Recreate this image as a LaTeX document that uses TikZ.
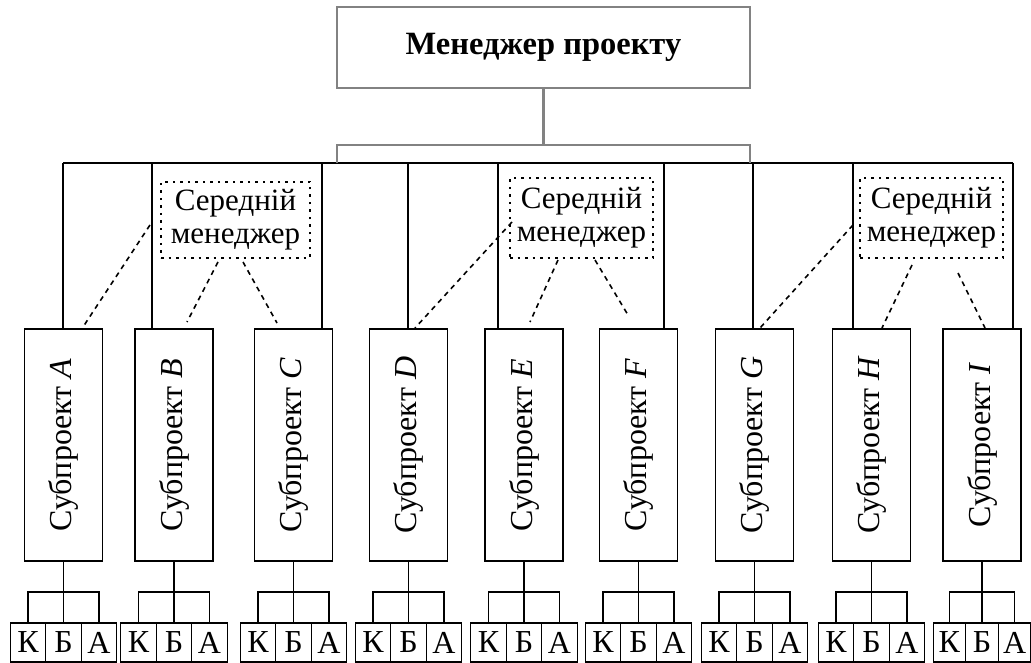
\documentclass[tikz,border=0pt]{standalone}
\usepackage{fontspec}
\setmainfont{Liberation Serif}
\definecolor{topgray}{RGB}{130,130,130}
\tikzset{
  every node/.style={inner sep=0pt, outer sep=0pt},
  topbox/.style={draw=topgray, line width=2.6pt, minimum width=413pt, minimum height=81pt,
    font=\bfseries\fontsize{32.5}{36}\selectfont},
  topline/.style={draw=topgray, line width=2.6pt},
  midbox/.style={draw, line width=2pt, dash pattern=on 2.5pt off 5pt, align=center,
    font=\fontsize{31}{33}\selectfont},
  subbox/.style={draw, line width=1.2pt, minimum width=78pt, minimum height=232pt},
  sublabel/.style={rotate=90, font=\fontsize{32}{36}\selectfont},
  letbox/.style={draw, line width=1.2pt, minimum height=39pt,
    font=\fontsize{32}{34}\selectfont},
  link/.style={line width=1.2pt},
  dashlink/.style={line width=1.6pt, dash pattern=on 5pt off 4.5pt},
}
\begin{document}
\begin{tikzpicture}[x=1pt, y=-1pt]
\useasboundingbox (0,0) rectangle (1031,663);

% project manager
\node[topbox] (pm) at (543.5,47.5) {Менеджер проекту};

% subprojects with their K/B/A groups (name / centre / bus drop / letter box width)
\foreach \n/\c/\t/\w in {A/63.5/63/35.5, B/174/152/35.5, C/293.5/322/35.5,
                         D/408.5/408/35.5, E/524/498/35.5, F/638.5/664/35.5,
                         G/754.5/753/35.5, H/871.5/853/35.5, I/982/1013/32.6} {
  \node[subbox] (\n) at (\c,445) {};
  \node[sublabel] at (\n) {Субпроект \textit{\n}};
  \coordinate (t\n) at (\t,163);
  \draw[link] (t\n) -- (t\n |- \n.north);
  \node[letbox, minimum width=\w pt] (k\n) at (\c-\w,642.5) {К};
  \node[letbox, minimum width=\w pt] (b\n) at (\c,642.5) {Б};
  \node[letbox, minimum width=\w pt] (a\n) at (\c+\w,642.5) {А};
  \coordinate (j\n) at (\c,592);
  \draw[link] (\n.south) -- (j\n);
  \draw[link] (k\n.north) |- (j\n) -| (a\n.north);
  \draw[link] (j\n) -- (b\n.north);
}

% common bus
\draw[link] (tA) -- (tI);

% grey link from the project manager to the bus
\coordinate (gl) at (337,145);
\coordinate (gr) at (750,145);
\draw[topline] (pm.south) -- (pm.south |- gl);
\draw[topline] (gl |- tA) -- (gl) -- (gr) -- (gr |- tA);

% middle managers
\node[midbox, minimum width=149pt, minimum height=76pt] (m1) at (235.5,220) {Середній\\менеджер};
\node[midbox, minimum width=143pt, minimum height=80pt] (m2) at (581.5,218) {Середній\\менеджер};
\node[midbox, minimum width=143pt, minimum height=80pt] (m3) at (931.5,218) {Середній\\менеджер};

% dashed links from middle managers to subprojects
\coordinate (s1a) at (150,225);  \coordinate (e1a) at (83,327);
\coordinate (s1b) at (218,262);  \coordinate (e1b) at (187,322);
\coordinate (s1c) at (243,262);  \coordinate (e1c) at (277,323);
\coordinate (s2a) at (512,222);  \coordinate (e2a) at (415,328);
\coordinate (s2b) at (558,260);  \coordinate (e2b) at (530,322);
\coordinate (s2c) at (595,260);  \coordinate (e2c) at (628,315);
\coordinate (s3a) at (853,225);  \coordinate (e3a) at (760,328);
\coordinate (s3b) at (912,265);  \coordinate (e3b) at (882,328);
\coordinate (s3c) at (958,273);  \coordinate (e3c) at (985,328);
\foreach \i in {1,2,3} {
  \foreach \j in {a,b,c} {
    \draw[dashlink] (s\i\j) -- (e\i\j);
  }
}
\end{tikzpicture}
\end{document}
